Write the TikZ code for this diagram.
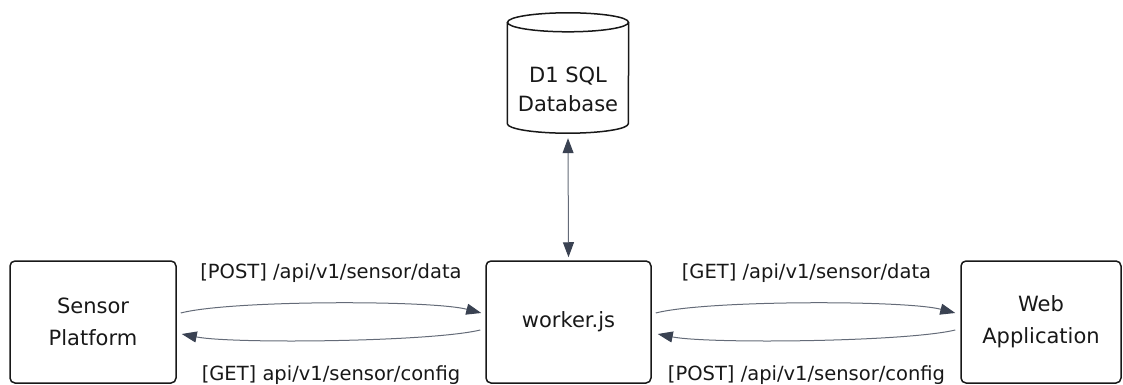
\documentclass[tikz,border=0pt]{standalone}
\usepackage{fontspec}
\setmainfont{DejaVu Sans}
\usetikzlibrary{arrows.meta,calc}
\definecolor{edge}{RGB}{100,107,120}
\definecolor{tip}{RGB}{58,66,82}
\definecolor{ink}{RGB}{24,24,24}

\begin{document}
\begin{tikzpicture}[x=1pt,y=1pt,
  >={Triangle[length=15pt,width=11pt,color=tip]},
  box/.style={draw=ink, line width=1.5pt, rounded corners=5pt,
    minimum width=166pt, minimum height=122pt, inner sep=0pt,
    align=center, font=\fontsize{21}{32}\selectfont, text=ink},
  dbframe/.style={minimum width=121pt, minimum height=120pt, inner sep=0pt},
  dbtext/.style={align=center, font=\fontsize{21}{29}\selectfont, text=ink, inner sep=0pt},
  flow/.style={draw=edge, line width=1pt, ->},
  lbl/.style={font=\fontsize{19.5}{24}\selectfont, text=ink, anchor=base, inner sep=0pt}]
\useasboundingbox (0,0) rectangle (1123,-385);

% components
\node[box] (sensor) at (93,-322) {Sensor\\Platform};
\node[box, minimum width=165pt] (worker) at (568.5,-322) {worker.js};
\node[box, minimum width=160pt] (web) at (1041,-322) {Web\\Application};

% database cylinder
\node[dbframe] (db) at (568,-73) {};
\draw[ink, line width=1.5pt]
  ($(db.north west)+(0,-9.5)$) -- ($(db.south west)+(0,9.5)$)
  arc[start angle=180, end angle=360, x radius=60.5, y radius=9.5]
  -- ($(db.north east)+(0,-9.5)$);
\draw[ink, line width=1.5pt] ($(db.north)+(0,-9.5)$) ellipse[x radius=60.5, y radius=9.5];
\node[dbtext] (dblabel) at ($(db.center)+(0,-16)$) {D1 SQL\\Database};

% database link
\draw[draw=edge, line width=1pt, <->] ([yshift=-5]db.south) -- ([yshift=3]worker.north);

% sensor <-> worker
\draw[flow] ([xshift=4,yshift=9]sensor.east) .. controls +(50,13) and +(-50,13) .. ([xshift=-4,yshift=9]worker.west);
\draw[flow] ([xshift=-5,yshift=-8]worker.west) .. controls +(-50,-12) and +(50,-10) .. ([xshift=5,yshift=-12]sensor.east);

% worker <-> web
\draw[flow] ([xshift=4,yshift=9]worker.east) .. controls +(50,13) and +(-50,13) .. ([xshift=-5,yshift=9]web.west);
\draw[flow] ([xshift=-5,yshift=-8]web.west) .. controls +(-50,-12) and +(50,-10) .. ([xshift=6,yshift=-12]worker.east);

% request labels
\node[lbl] (postdata) at (331,-278.7) {[POST] /api/v1/sensor/data};
\node[lbl] (getconfig) at (331,-380) {[GET] api/v1/sensor/config};
\node[lbl] (getdata) at (806.5,-278.7) {[GET] /api/v1/sensor/data};
\node[lbl] (postconfig) at (806.5,-380) {[POST] /api/v1/sensor/config};
\end{tikzpicture}
\end{document}
